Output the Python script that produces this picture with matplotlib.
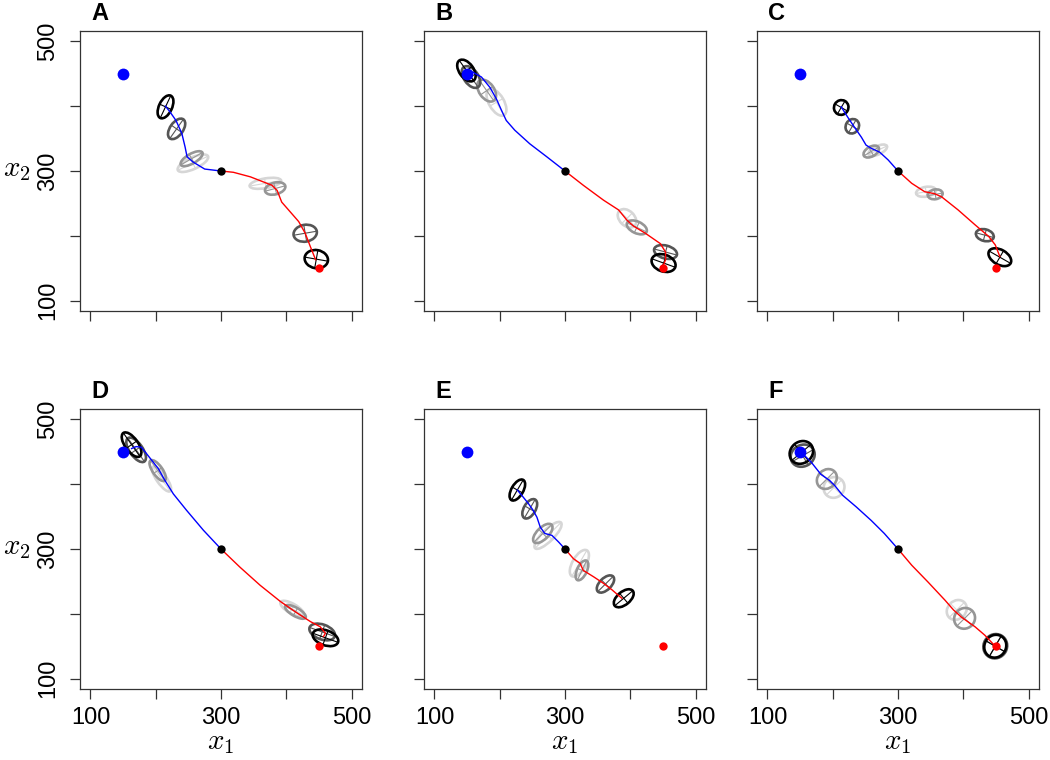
# trajectories with covariance ellipses, six panels A-F

import numpy as np
import matplotlib.pyplot as plt
from matplotlib.patches import Ellipse

plt.rcParams['font.family'] = ['Liberation Sans', 'DejaVu Sans']
plt.rcParams['mathtext.fontset'] = 'cm'

start_point = (300, 300)
blue_target = (150, 450)
red_target = (450, 150)

panel_names = ['A', 'B', 'C', 'D', 'E', 'F']

# paths (x, y) from the centre out
blue_path_A = [(300, 300), (275, 303), (257, 314), (248, 322), (245, 337), (240, 358),
               (231, 378), (222, 391), (215, 400)]
red_path_A = [(300, 300), (319, 298), (345, 291), (378, 278), (386, 270), (393, 252),
              (406, 237), (419, 222), (429, 204), (437, 183), (445, 163)]

blue_path_B = [(300, 300), (272, 322), (246, 342), (223, 363), (210, 378), (203, 393),
               (195, 411), (185, 429), (172, 445), (156, 454), (146, 450)]
red_path_B = [(300, 300), (328, 278), (359, 255), (382, 240), (395, 224), (405, 215),
              (423, 204), (446, 188), (454, 175), (454, 163), (449, 150)]

blue_path_C = [(300, 300), (285, 317), (272, 329), (259, 335), (251, 340), (244, 352),
               (233, 368), (223, 383), (213, 399)]
red_path_C = [(300, 300), (321, 281), (341, 268), (356, 265), (367, 260), (392, 240),
              (418, 217), (439, 199), (449, 186), (456, 168)]

blue_path_D = [(300, 300), (273, 329), (247, 360), (227, 385), (214, 406), (204, 424),
               (193, 438), (186, 447), (178, 457), (170, 458), (163, 455)]
red_path_D = [(300, 300), (329, 272), (360, 244), (391, 219), (417, 201), (437, 188),
              (452, 180), (460, 170), (457, 165)]

blue_path_E = [(300, 300), (290, 311), (280, 321), (269, 324), (262, 334), (257, 349),
               (251, 360), (244, 370), (236, 380), (227, 391)]
red_path_E = [(300, 300), (313, 285), (323, 278), (328, 267), (344, 257), (359, 247),
              (372, 237), (387, 224)]

blue_path_F = [(300, 300), (279, 324), (259, 344), (236, 365), (215, 383), (203, 398),
               (195, 406), (182, 415), (167, 434), (152, 449)]
red_path_F = [(300, 300), (321, 275), (346, 249), (372, 221), (385, 206), (397, 195),
              (418, 180), (433, 167), (449, 150)]

# ellipses: (x, y, width, height, angle, step) step 0 = earliest (light) .. 3 = latest (black)
ell_blue_A = [(257, 312, 51, 18, 25, 0), (255, 319, 38, 15, 30, 1),
              (232, 365, 36, 20, 55, 2), (215, 399, 38, 20, 65, 3)]
ell_red_A = [(368, 281, 49, 15, 10, 0), (383, 273, 32, 18, 15, 1),
             (429, 204, 36, 26, 10, 2), (446, 164, 36, 28, -10, 3)]

ell_blue_B = [(195, 406, 46, 23, -60, 0), (180, 424, 38, 23, -55, 1),
              (156, 445, 38, 22, -55, 2), (149, 455, 38, 22, -55, 3)]
ell_red_B = [(395, 227, 33, 23, -45, 0), (410, 213, 33, 18, -25, 1),
             (454, 175, 36, 20, -15, 2), (451, 158, 38, 26, -20, 3)]

ell_blue_C = [(269, 332, 31, 13, 25, 0), (259, 330, 26, 15, 30, 1),
              (230, 369, 23, 20, 60, 2), (213, 398, 23, 22, 60, 3)]
ell_red_C = [(343, 268, 31, 15, 10, 0), (357, 264, 23, 15, 10, 1),
             (433, 201, 28, 18, -15, 2), (456, 167, 38, 23, -30, 3)]

ell_blue_D = [(209, 408, 46, 15, -55, 0), (203, 421, 38, 15, -55, 1),
              (170, 453, 44, 20, -55, 2), (163, 461, 44, 20, -55, 3)]
ell_red_D = [(409, 208, 41, 15, -30, 0), (414, 203, 36, 13, -30, 1),
             (455, 172, 41, 23, -20, 2), (460, 163, 41, 23, -20, 3)]

ell_blue_E = [(274, 321, 56, 18, 45, 0), (266, 324, 38, 18, 45, 1),
              (246, 362, 33, 18, 60, 2), (227, 391, 36, 18, 60, 3)]
ell_red_E = [(322, 278, 46, 21, 60, 0), (326, 267, 33, 15, 65, 1),
             (362, 246, 33, 18, 45, 2), (390, 224, 36, 20, 40, 3)]

ell_blue_F = [(202, 395, 33, 31, 45, 0), (191, 408, 33, 28, 45, 1),
              (154, 444, 38, 33, 30, 2), (152, 449, 38, 33, 40, 3)]
ell_red_F = [(390, 206, 33, 28, 45, 0), (402, 193, 33, 31, 45, 1),
             (449, 150, 38, 36, 60, 2), (449, 150, 36, 33, 60, 3)]

blue_paths = [blue_path_A, blue_path_B, blue_path_C, blue_path_D, blue_path_E, blue_path_F]
red_paths = [red_path_A, red_path_B, red_path_C, red_path_D, red_path_E, red_path_F]
blue_ells = [ell_blue_A, ell_blue_B, ell_blue_C, ell_blue_D, ell_blue_E, ell_blue_F]
red_ells = [ell_red_A, ell_red_B, ell_red_C, ell_red_D, ell_red_E, ell_red_F]

ticks = [100, 200, 300, 400, 500]
tick_labels = ['100', '', '300', '', '500']

shades = ['#d6d6d6', '#969696', '#555555', '#000000']

W, H = 1050, 760
fig = plt.figure(figsize=(W / 100, H / 100), dpi=100)

lefts = [80, 424, 757]
tops = [31, 409]
box_w, box_h = 282, 280


def draw_ellipse(ax, e):
    x, y, w, h, ang, step = e
    col = shades[step]
    ax.add_patch(Ellipse((x, y), w, h, angle=ang, fill=False, edgecolor=col, lw=1.9, zorder=2))
    t = np.deg2rad(ang)
    # principal axes as a cross
    dx, dy = np.cos(t) * w / 2, np.sin(t) * w / 2
    ax.plot([x - dx, x + dx], [y - dy, y + dy], color=col, lw=0.8, zorder=2)
    dx, dy = -np.sin(t) * h / 2, np.cos(t) * h / 2
    ax.plot([x - dx, x + dx], [y - dy, y + dy], color=col, lw=0.8, zorder=2)


for i, name in enumerate(panel_names):
    row, col = divmod(i, 3)
    l, t = lefts[col], tops[row]
    ax = fig.add_axes([l / W, 1 - (t + box_h) / H, box_w / W, box_h / H])

    for e in blue_ells[i] + red_ells[i]:
        draw_ellipse(ax, e)

    bp = np.array(blue_paths[i])
    rp = np.array(red_paths[i])
    ax.plot(bp[:, 0], bp[:, 1], color='#0000ff', lw=1.0, zorder=3)
    ax.plot(rp[:, 0], rp[:, 1], color='#ff0000', lw=1.0, zorder=3)

    ax.plot(*blue_target, 'o', color='#0000ff', ms=8.5, mec='none', zorder=4)
    ax.plot(*red_target, 'o', color='#ff0000', ms=6, mec='none', zorder=4)
    ax.plot(*start_point, 'o', color='black', ms=6, mec='none', zorder=4)

    ax.set_xlim(84, 516)
    ax.set_ylim(84, 516)
    ax.set_xticks(ticks)
    ax.set_yticks(ticks)
    ax.tick_params(direction='out', length=7, width=0.9, color='#333333', labelsize=17)
    ax.tick_params(axis='x', pad=6)
    ax.tick_params(axis='y', pad=8)
    if row == 1:
        ax.set_xticklabels(tick_labels)
    else:
        ax.set_xticklabels([])
    if col == 0:
        ax.set_yticklabels(tick_labels, rotation=90, va='center')
    else:
        ax.set_yticklabels([])
    for s in ax.spines.values():
        s.set_linewidth(0.9)
        s.set_color('#333333')

    fig.text((l + 11) / W, 1 - (t - 11) / H, name, fontsize=17, fontweight='bold',
             ha='left', va='baseline')

    if col == 0:
        fig.text(17 / W, 1 - (t + 138) / H, '$x_2$', fontsize=21, ha='center', va='center')
    if row == 1:
        fig.text((l + box_w / 2) / W, 1 - 742 / H, '$x_1$', fontsize=21, ha='center', va='center')

fig.savefig('out.png', dpi=100)
